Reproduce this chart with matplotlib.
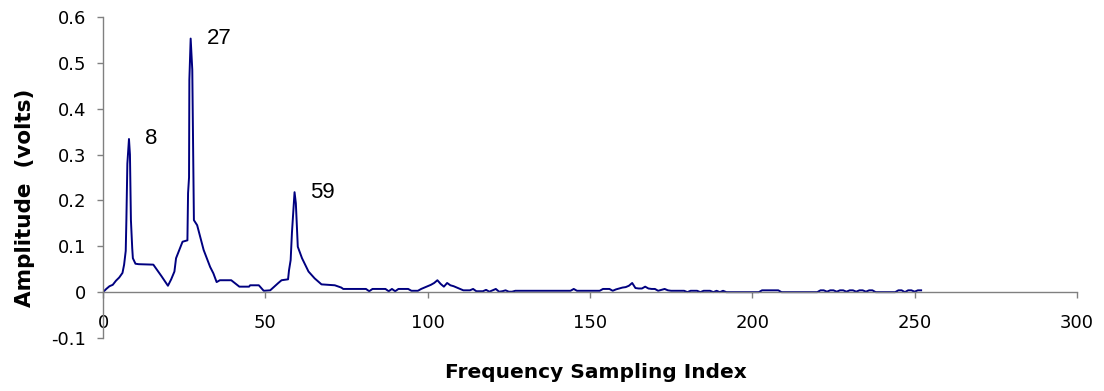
import matplotlib

matplotlib.use("Agg")
import matplotlib.pyplot as plt
import numpy as np

# spectrum (index, amplitude in volts)
# low band has finer steps around the peaks
low_index = [
    0, 1, 2, 3, 4, 5, 6, 6.5, 7, 7.2, 7.5, 8, 8.3, 8.6, 9, 9.2, 10, 11, 15.5, 16,
    18, 20, 21, 22, 22.5, 24.5, 26, 26.2, 26.5, 26.6, 27, 27.5, 28, 29, 31, 33, 34,
    35, 36, 39.5, 42, 45, 45.3, 48, 49.5, 51.5, 54, 55, 57, 57.3, 57.8, 58.2, 59,
    59.4, 60, 61.3, 63.3, 65.2, 67.3, 71.4, 73.4, 74,
]
low_amplitude = [
    0.0, 0.007, 0.013, 0.016, 0.025, 0.032, 0.042, 0.06, 0.09, 0.157, 0.28, 0.334,
    0.30, 0.157, 0.096, 0.074, 0.062, 0.061, 0.06, 0.055, 0.035, 0.014, 0.028,
    0.045, 0.074, 0.11, 0.113, 0.216, 0.25, 0.463, 0.553, 0.485, 0.157, 0.146,
    0.092, 0.055, 0.041, 0.022, 0.026, 0.026, 0.012, 0.012, 0.015, 0.015, 0.003,
    0.004, 0.02, 0.026, 0.028, 0.048, 0.07, 0.13, 0.218, 0.194, 0.099, 0.074,
    0.045, 0.03, 0.017, 0.015, 0.01, 0.007,
]

# tail, one value per index from 75 to 251
tail_start = 75
tail_amplitude = [
    0.007, 0.007, 0.007, 0.007, 0.007, 0.007, 0.007, 0.002, 0.007, 0.007,  # 75-84
    0.007, 0.007, 0.007, 0.002, 0.007, 0.002, 0.007, 0.007, 0.007, 0.007,  # 85-94
    0.003, 0.003, 0.003, 0.007, 0.01, 0.013, 0.016, 0.02, 0.026, 0.018,  # 95-104
    0.012, 0.02, 0.015, 0.013, 0.01, 0.007, 0.004, 0.004, 0.004, 0.007,  # 105-114
    0.002, 0.002, 0.002, 0.005, 0.001, 0.004, 0.007, 0.001, 0.002, 0.004,  # 115-124
    0.001, 0.001, 0.003, 0.003, 0.003, 0.003, 0.003, 0.003, 0.003, 0.003,  # 125-134
    0.003, 0.003, 0.003, 0.003, 0.003, 0.003, 0.003, 0.003, 0.003, 0.003,  # 135-144
    0.007, 0.003, 0.003, 0.003, 0.003, 0.003, 0.003, 0.003, 0.003, 0.007,  # 145-154
    0.007, 0.007, 0.003, 0.006, 0.008, 0.01, 0.011, 0.014, 0.02, 0.009,  # 155-164
    0.008, 0.008, 0.012, 0.008, 0.007, 0.007, 0.003, 0.005, 0.007, 0.004,  # 165-174
    0.003, 0.003, 0.003, 0.003, 0.003, 0.0, 0.003, 0.003, 0.003, 0.0,  # 175-184
    0.003, 0.003, 0.003, 0.0, 0.003, 0.0, 0.003, 0.0, 0.0, 0.0,  # 185-194
    0.0, 0.0, 0.0, 0.0, 0.0, 0.0, 0.0, 0.0, 0.004, 0.004,  # 195-204
    0.004, 0.004, 0.004, 0.004, 0.0, 0.0, 0.0, 0.0, 0.0, 0.0,  # 205-214
    0.0, 0.0, 0.0, 0.0, 0.0, 0.0, 0.004, 0.004, 0.001, 0.004,  # 215-224
    0.004, 0.001, 0.004, 0.004, 0.001, 0.004, 0.004, 0.001, 0.004, 0.004,  # 225-234
    0.001, 0.004, 0.004, 0.0, 0.0, 0.0, 0.0, 0.0, 0.0, 0.0,  # 235-244
    0.004, 0.004, 0.0, 0.004, 0.004, 0.001, 0.004, 0.004,  # 245-251
]

peak_index = [8, 27, 59]
peak_amplitude = [0.334, 0.553, 0.218]

x_ticks = [0, 50, 100, 150, 200, 250, 300]
y_ticks = [-0.1, 0.0, 0.1, 0.2, 0.3, 0.4, 0.5, 0.6]
y_tick_labels = ["-0.1", "0", "0.1", "0.2", "0.3", "0.4", "0.5", "0.6"]

freq_index = np.concatenate(
    [low_index, np.arange(tail_start, tail_start + len(tail_amplitude))]
)
amplitude = np.concatenate([low_amplitude, tail_amplitude])

# the reference text is wide, DejaVu matches its footprint better
plt.rcParams["font.family"] = ["DejaVu Sans"]

fig = plt.figure(figsize=(11.04, 3.91), dpi=100)
ax = fig.add_axes([0.0933, 0.1355, 0.8822, 0.821])

ax.plot(freq_index, amplitude, color="#000080", linewidth=1.4)

for px, py in zip(peak_index, peak_amplitude):
    ax.annotate(
        str(px), (px, py), xytext=(11.5, 0), textcoords="offset points",
        ha="left", va="center", fontsize=16, family=["Liberation Sans", "DejaVu Sans"],
    )

ax.set_xlim(0, 300)
ax.set_ylim(-0.1, 0.6)
ax.set_xticks(x_ticks)
ax.set_yticks(y_ticks)
ax.set_yticklabels(y_tick_labels)

# excel style: x axis crosses at zero, no frame top/right
ax.spines["bottom"].set_position(("data", 0))
ax.spines["top"].set_visible(False)
ax.spines["right"].set_visible(False)
for side in ("left", "bottom"):
    ax.spines[side].set_color("#808080")
    ax.spines[side].set_linewidth(1.0)

ax.tick_params(axis="x", direction="out", length=4, width=1.0, color="#808080",
               pad=12, labelsize=13)
ax.tick_params(axis="y", direction="out", length=4, width=1.0, color="#808080",
               pad=8, labelsize=13)

ax.set_xlabel("Frequency Sampling Index", fontsize=14.5, fontweight="bold", va="center")
ax.xaxis.set_label_coords(0.506, -0.106)
ax.set_ylabel("Amplitude  (volts)", fontsize=15.5, fontweight="bold", va="center")
ax.yaxis.set_label_coords(-0.08, 0.438)

fig.savefig("out.png", dpi=100)
plt.close(fig)
